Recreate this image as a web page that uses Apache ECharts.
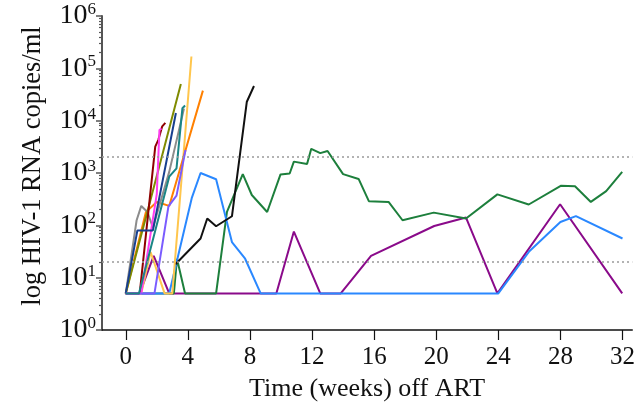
<!DOCTYPE html>
<html>
<head>
<meta charset="utf-8">
<script src="https://cdn.jsdelivr.net/npm/echarts@6/dist/echarts.min.js"></script>
<style>
html,body{margin:0;padding:0;background:#fff;}
#chart{width:638px;height:409px;}
</style>
</head>
<body>
<div id="chart"></div>
<script>
// ---- data: [week off ART, HIV-1 RNA copies/ml] ----
const xTicks = [0, 4, 8, 12, 16, 20, 24, 28, 32];
const yTicks = [1, 10, 100, 1000, 10000, 100000, 1000000];
const thresholds = [20, 2000];

const purple = [[0,5],[0.9,5],[1.8,26],[2.8,5],[9.7,5],[10.83,76],[12.53,5],[13.85,5],[15.8,26],[19.87,97],[21.92,141],[23.94,5],[27.98,253],[31.98,5]];
const green = [[0,5],[3.1,5],[3.3,23],[3.82,5],[5.82,5],[6.52,180],[7.54,950],[8.12,380],[9.11,180],[9.97,940],[10.56,980],[10.83,1650],[11.68,1490],[11.95,2900],[12.53,2400],[13.0,2630],[14.0,950],[15.0,770],[15.66,290],[16.93,280],[17.83,125],[19.84,175],[21.92,135],[23.94,390],[25.96,250],[28.02,570],[28.94,560],[29.96,280],[30.95,450],[31.98,1050]];
const blue = [[0,5],[2.8,5],[4.25,330],[4.82,1000],[5.82,760],[6.84,48],[7.69,23],[8.69,5],[12,5],[16,5],[20,5],[24,5],[26,32],[28,116],[29,150],[32,56]];
const black = [[3.2,18],[4.82,56],[5.25,135],[5.82,96],[6.84,149],[7.8,23000],[8.26,46000]];
const gold = [[0,5],[1.0,5],[1.6,31],[2.5,5],[3.0,5],[4.23,168000]];
const orange = [[0,5],[1.3,180],[2.0,280],[2.8,235],[4.97,37500]];
const gray = [[0,5],[0.7,125],[1.0,235],[1.4,180],[1.75,90],[2.8,1050],[3.75,17000]];
const olive = [[0,5],[1.5,240],[3.55,50000]];
const maroon = [[0,5],[0.9,5],[1.9,3200],[2.1,4300],[2.35,7800],[2.55,9100]];
const magenta = [[0,5],[1.0,5],[2.0,400],[2.17,6600],[2.3,7100]];
const navy = [[0,5],[0.75,80],[1.75,80],[3.23,14000]];
const slate = [[0,5],[1.85,5],[2.75,230],[3.27,370],[3.85,2750]];
const teal = [[0,5],[0.85,5],[2.8,850],[3.27,1230],[3.65,17300],[3.82,19500]];

const seriesDefs = [
  ['purple', purple, '#8a0a8a'],
  ['green', green, '#1d7f3c'],
  ['blue', blue, '#2a88ff'],
  ['black', black, '#111111'],
  ['gold', gold, '#ffc64d'],
  ['orange', orange, '#ff8000'],
  ['gray', gray, '#8c8c8c'],
  ['olive', olive, '#7f8a00'],
  ['maroon', maroon, '#8e0000'],
  ['magenta', magenta, '#ff3df0'],
  ['navy', navy, '#173f8f'],
  ['slate', slate, '#7a5cff'],
  ['teal', teal, '#1a8585']
];

const FONT = '"Liberation Serif", "Times New Roman", serif';

const minorLog = [];
for (let e = 0; e < 6; e++) for (let k = 2; k <= 9; k++) minorLog.push(e + Math.log10(k));

const series = seriesDefs.map(([name, data, color], i) => {
  const s = {
    name, type: 'line', data, showSymbol: false, symbol: 'none',
    lineStyle: { color, width: 2 }, itemStyle: { color },
    xAxisIndex: 0, yAxisIndex: 0, animation: false
  };
  if (i === 0) {
    s.markLine = {
      silent: true, symbol: ['none', 'none'], animation: false,
      label: { show: false },
      lineStyle: { color: '#9a9a9a', width: 1.5, type: [2, 3] },
      data: thresholds.map(v => ({ yAxis: v }))
    };
  }
  return s;
});

const chart = echarts.init(document.getElementById('chart'), null, { renderer: 'canvas' });
chart.setOption({
  animation: false,
  backgroundColor: '#fff',
  grid: { left: 102, right: 0, top: 16, bottom: 79, containLabel: false },
  xAxis: {
    type: 'value', min: -1.53, max: 32.63,
    name: 'Time (weeks) off ART', nameLocation: 'middle', nameGap: 46,
    nameTextStyle: { fontFamily: FONT, fontSize: 26, color: '#111' },
    axisLine: { show: true, onZero: false, lineStyle: { color: '#111', width: 1.5 } },
    axisTick: { show: true, customValues: xTicks, length: 10, lineStyle: { color: '#111', width: 1.2 } },
    axisLabel: { customValues: xTicks, fontFamily: FONT, fontSize: 25, color: '#111', margin: 15 },
    splitLine: { show: false }
  },
  yAxis: [
    {
      type: 'log', logBase: 10, min: 1, max: 1000000, interval: 1,
      name: 'log HIV-1 RNA copies/ml', nameLocation: 'middle', nameGap: 55,
      nameTextStyle: { fontFamily: FONT, fontSize: 26.5, color: '#111', padding: [0, 0, 0, 14] },
      axisLine: { show: true, onZero: false, lineStyle: { color: '#555', width: 2 } },
      axisTick: { show: true, length: 6, lineStyle: { color: '#555', width: 1.5 } },
      axisLabel: {
        margin: 6, color: '#111',
        formatter: v => '{b|10}{s|' + Math.round(Math.log10(v)) + '}',
        rich: {
          b: { fontFamily: FONT, fontSize: 28, color: '#111' },
          s: { fontFamily: FONT, fontSize: 17, color: '#111', padding: [0, 0, 13, 0] }
        }
      },
      splitLine: { show: false }
    },
    {
      type: 'value', min: 0, max: 6, position: 'left',
      axisLine: { show: false, onZero: false },
      axisTick: { show: true, customValues: minorLog, length: 3, lineStyle: { color: '#555', width: 1.2 } },
      axisLabel: { show: false, customValues: minorLog },
      splitLine: { show: false }
    }
  ],
  series
});
</script>
</body>
</html>
